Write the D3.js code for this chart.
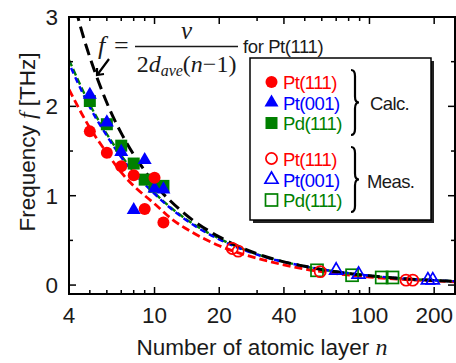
<!DOCTYPE html>
<html>
<head>
<meta charset="utf-8">
<script src="https://cdn.jsdelivr.net/npm/d3@7"></script>
<style>
  body { margin: 0; background: #fff; }
  svg { display: block; }
</style>
</head>
<body>
<svg id="chart"></svg>
<script>
// calculated frequencies (filled symbols)
const calcN     = [5, 6, 7, 8, 9, 10, 11];
const calcPt111 = [1.72, 1.48, 1.33, 1.23, 0.85, 1.20, 0.70];
const calcPt001 = [2.13, 1.82, 1.49, 0.84, 1.40, 1.08, 1.07];
const calcPd111 = [2.06, 1.80, 1.56, 1.36, 1.18, 1.10, 1.11];

// measured frequencies (open symbols)
const measPt111N = [23, 24.5, 59, 148, 159];
const measPt111  = [0.41, 0.38, 0.15, 0.055, 0.055];
const measPt001N = [70, 89, 187, 197];
const measPt001  = [0.165, 0.12, 0.055, 0.055];
const measPd111N = [57, 83, 114, 128];
const measPd111  = [0.165, 0.11, 0.085, 0.085];

// dashed curves
const fitN     = [4, 5, 6, 7, 8, 10, 12, 15, 20, 30, 50, 100, 250];
const fitPt111 = [2.19, 1.76, 1.48, 1.26, 1.11, 0.91, 0.74, 0.59, 0.44, 0.30, 0.18, 0.09, 0.037];
const fitPt001 = [2.48, 1.99, 1.67, 1.43, 1.26, 1.02, 0.85, 0.68, 0.51, 0.34, 0.21, 0.106, 0.043];
const fitPd111 = [2.52, 2.02, 1.69, 1.45, 1.27, 1.03, 0.86, 0.69, 0.52, 0.345, 0.21, 0.106, 0.043];
const modelN   = [4.3, 4.6, 5, 5.5, 6, 7, 8, 9, 10, 12, 15, 20, 25, 30, 40, 50, 70, 100, 150, 250];
const modelF   = [3.09, 2.83, 2.55, 2.27, 2.04, 1.70, 1.46, 1.28, 1.13, 0.93, 0.73, 0.54, 0.425, 0.35, 0.26, 0.21, 0.148, 0.103, 0.068, 0.041];

const xMajor = [4, 10, 20, 40, 100, 200];
const xMinor = [5, 6, 7, 8, 9, 30, 50, 60, 70, 80, 90];
const yMajor = [0, 1, 2, 3];
const yMinor = [0.5, 1.5, 2.5];

const RED = "#ff0000", BLUE = "#0000ff", GREEN = "#008000";
const width = 456, height = 363;
const m = { left: 69, right: 455, top: 17, bottom: 294 };

const svg = d3.select("#chart").attr("width", width).attr("height", height);

const x = d3.scaleLog().domain([4, 250]).range([m.left, m.right]);
const y = d3.scaleLinear().domain([-0.1, 3]).range([m.bottom, m.top]);

svg.append("clipPath").attr("id", "plot")
  .append("rect").attr("x", m.left).attr("y", m.top)
  .attr("width", m.right - m.left).attr("height", m.bottom - m.top);

// curves
const line = d3.line().x(d => x(d[0])).y(d => y(d[1])).curve(d3.curveMonotoneX);
const curves = svg.append("g").attr("clip-path", "url(#plot)").attr("fill", "none");

function curve(ns, fs, color, w, dash, off) {
  curves.append("path")
    .attr("d", line(d3.zip(ns, fs)))
    .attr("stroke", color).attr("stroke-width", w)
    .attr("stroke-dasharray", dash).attr("stroke-dashoffset", off || 0);
}
curve(fitN, fitPt111, RED, 2.8, "8,4");
curve(fitN, fitPd111, GREEN, 2.4, "7,3");
curve(fitN, fitPt001, BLUE, 2.4, "6,4", 5);
curve(modelN, modelF, "#000", 3, "12,6");

// markers
function tri(cx, cy, s) {
  const h = s * Math.sqrt(3);
  return `M${cx},${cy - 2 * h / 3}L${cx + s},${cy + h / 3}L${cx - s},${cy + h / 3}Z`;
}
function marker(g, shape, cx, cy, color, filled) {
  let el;
  if (shape === "circle") {
    el = g.append("circle").attr("cx", cx).attr("cy", cy).attr("r", filled ? 6 : 5.6);
  } else if (shape === "square") {
    const s = 6;
    el = g.append("rect").attr("x", cx - s).attr("y", cy - s).attr("width", 2 * s).attr("height", 2 * s);
  } else {
    el = g.append("path").attr("d", tri(cx, cy, filled ? 7 : 6.5));
  }
  if (filled) el.attr("fill", color);
  else el.attr("fill", "none").attr("stroke", color).attr("stroke-width", 1.7);
}

const pts = svg.append("g");
calcN.forEach((n, i) => marker(pts, "square", x(n), y(calcPd111[i]), GREEN, true));
calcN.forEach((n, i) => marker(pts, "triangle", x(n), y(calcPt001[i]), BLUE, true));
calcN.forEach((n, i) => marker(pts, "circle", x(n), y(calcPt111[i]), RED, true));
measPd111N.forEach((n, i) => marker(pts, "square", x(n), y(measPd111[i]), GREEN, false));
measPt111N.forEach((n, i) => marker(pts, "circle", x(n), y(measPt111[i]), RED, false));
measPt001N.forEach((n, i) => marker(pts, "triangle", x(n), y(measPt001[i]), BLUE, false));

// frame and ticks (inward on all sides)
const ax = svg.append("g").attr("stroke", "#000").attr("stroke-width", 1.5);
xMajor.concat(xMinor).forEach(v => {
  const L = xMajor.includes(v) ? 7 : 4;
  ax.append("line").attr("x1", x(v)).attr("x2", x(v)).attr("y1", m.bottom).attr("y2", m.bottom - L);
  ax.append("line").attr("x1", x(v)).attr("x2", x(v)).attr("y1", m.top).attr("y2", m.top + L);
});
yMajor.concat(yMinor).forEach(v => {
  const L = yMajor.includes(v) ? 7 : 4;
  ax.append("line").attr("y1", y(v)).attr("y2", y(v)).attr("x1", m.left).attr("x2", m.left + L);
  ax.append("line").attr("y1", y(v)).attr("y2", y(v)).attr("x1", m.right).attr("x2", m.right - L);
});
svg.append("rect").attr("x", m.left).attr("y", m.top)
  .attr("width", m.right - m.left).attr("height", m.bottom - m.top)
  .attr("fill", "none").attr("stroke", "#000").attr("stroke-width", 2);

const sans = "Liberation Sans, Arial, sans-serif";
const serif = "Liberation Serif, Times New Roman, serif";
const ink = "#1a1a1a";

svg.append("g").selectAll("text").data(xMajor).join("text")
  .attr("x", d => x(d)).attr("y", 322.5)
  .attr("text-anchor", "middle").attr("font-family", sans).attr("font-size", 22.5).attr("fill", ink)
  .text(d => d);
svg.append("g").selectAll("text").data(yMajor).join("text")
  .attr("x", 58).attr("y", d => y(d) + 8)
  .attr("text-anchor", "end").attr("font-family", sans).attr("font-size", 22.5).attr("fill", ink)
  .text(d => d);

// axis titles
const xt = svg.append("text").attr("x", 262).attr("y", 355).attr("text-anchor", "middle")
  .attr("font-family", sans).attr("font-size", 22.5).attr("fill", ink);
xt.append("tspan").text("Number of atomic layer ");
xt.append("tspan").attr("font-family", serif).attr("font-style", "italic").attr("font-size", 24).text("n");

const yt = svg.append("text").attr("transform", "translate(35,142) rotate(-90)").attr("text-anchor", "middle")
  .attr("font-family", sans).attr("font-size", 22.5).attr("fill", ink);
yt.append("tspan").text("Frequency ");
yt.append("tspan").attr("font-family", serif).attr("font-style", "italic").attr("font-size", 24).text("f");
yt.append("tspan").text(" [THz]");

// formula
const fg = svg.append("g").attr("fill", ink);
fg.append("text").attr("x", 98).attr("y", 54).attr("font-family", serif).attr("font-style", "italic")
  .attr("font-size", 26).text("f");
fg.append("text").attr("x", 114).attr("y", 54).attr("font-family", serif).attr("font-size", 26).text("=");
fg.append("line").attr("x1", 135).attr("x2", 238).attr("y1", 46.5).attr("y2", 46.5)
  .attr("stroke", ink).attr("stroke-width", 1.4);
fg.append("text").attr("x", 186.5).attr("y", 39).attr("text-anchor", "middle").attr("font-family", serif)
  .attr("font-style", "italic").attr("font-size", 25).text("v");
const den = fg.append("text").attr("x", 186.5).attr("y", 72).attr("text-anchor", "middle")
  .attr("font-family", serif).attr("font-size", 24);
den.append("tspan").text("2");
den.append("tspan").attr("font-style", "italic").text("d");
den.append("tspan").attr("font-style", "italic").attr("font-size", 16).attr("dy", 4).text("ave");
den.append("tspan").attr("dy", -4).text("(");
den.append("tspan").attr("font-style", "italic").text("n");
den.append("tspan").text("\u2212");
den.append("tspan").text("1)");
fg.append("text").attr("x", 243).attr("y", 52.5).attr("font-family", sans).attr("font-size", 18.5)
  .attr("letter-spacing", -0.4).text("for Pt(111)");

// arrow
svg.append("path").attr("d", "M109,59L97.5,74.5M97,68L97,75L104,74")
  .attr("fill", "none").attr("stroke", "#000").attr("stroke-width", 2.2);

// legend
const lg = svg.append("g");
lg.append("rect").attr("x", 253).attr("y", 61).attr("width", 181).attr("height", 162).attr("fill", "#222");
lg.append("rect").attr("x", 250).attr("y", 58).attr("width", 181).attr("height", 162)
  .attr("fill", "#fff").attr("stroke", "#000").attr("stroke-width", 1.5);

const legRows = [
  { shape: "circle", color: RED, filled: true, label: "Pt(111)", cy: 82 },
  { shape: "triangle", color: BLUE, filled: true, label: "Pt(001)", cy: 102.5 },
  { shape: "square", color: GREEN, filled: true, label: "Pd(111)", cy: 123 },
  { shape: "circle", color: RED, filled: false, label: "Pt(111)", cy: 158.5 },
  { shape: "triangle", color: BLUE, filled: false, label: "Pt(001)", cy: 179.5 },
  { shape: "square", color: GREEN, filled: false, label: "Pd(111)", cy: 200 }
];
legRows.forEach(r => {
  marker(lg, r.shape, 271.5, r.cy, r.color, r.filled);
  lg.append("text").attr("x", 283).attr("y", r.cy + 7).attr("font-family", sans).attr("font-size", 18.5)
    .attr("letter-spacing", -0.6).attr("fill", r.color).text(r.label);
});

function brace(x0, y0, y1, w) {
  const ym = (y0 + y1) / 2, xm = x0 + w / 2, r = 6;
  return `M${x0},${y0}Q${xm},${y0} ${xm},${y0 + r}L${xm},${ym - r}Q${xm},${ym} ${x0 + w},${ym}` +
    `Q${xm},${ym} ${xm},${ym + r}L${xm},${y1 - r}Q${xm},${y1} ${x0},${y1}`;
}
lg.append("path").attr("d", brace(351, 70, 135, 8)).attr("fill", "none").attr("stroke", "#000").attr("stroke-width", 2.2);
lg.append("path").attr("d", brace(351, 147, 212, 8)).attr("fill", "none").attr("stroke", "#000").attr("stroke-width", 2.2);
lg.append("text").attr("x", 370).attr("y", 109.5).attr("font-family", sans).attr("font-size", 18.5)
  .attr("letter-spacing", -0.6).attr("fill", ink).text("Calc.");
lg.append("text").attr("x", 367).attr("y", 187.5).attr("font-family", sans).attr("font-size", 18.5)
  .attr("letter-spacing", -0.6).attr("fill", ink).text("Meas.");
</script>
</body>
</html>
